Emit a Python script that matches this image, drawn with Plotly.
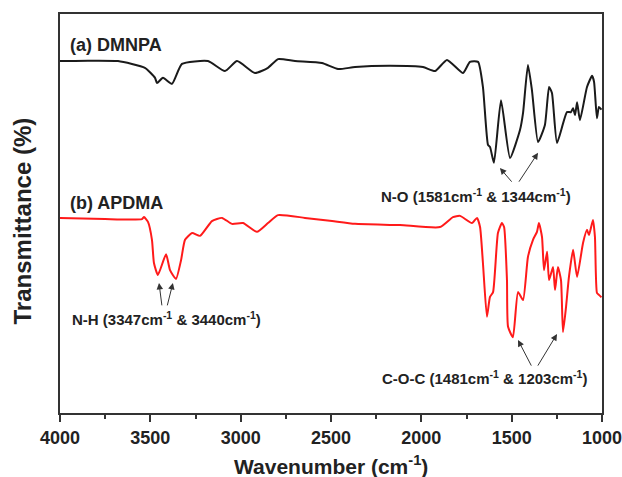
import plotly.graph_objects as go

# (a) DMNPA spectrum - wavenumber (cm-1) and transmittance (arb. %)
wn_a = [4000, 3845, 3679, 3530, 3474, 3463, 3430, 3380, 3325, 3181, 3087, 3020, 2921, 2849,
        2793, 2699, 2550, 2461, 2367, 2173, 1991, 1924, 1858, 1769, 1731, 1686, 1659, 1631,
        1620, 1598, 1559, 1509, 1454, 1437, 1410, 1388, 1354, 1316, 1293, 1277, 1249, 1194,
        1172, 1160, 1149, 1138, 1122, 1083, 1055, 1044, 1028, 1017, 1003]
t_a = [88.2, 88.3, 88.2, 86.5, 84.0, 82.7, 84.0, 82.5, 87.5, 88.2, 85.7, 88.2, 85.2, 86.5,
       88.7, 88.2, 87.7, 86.2, 86.7, 87.0, 86.7, 85.7, 88.5, 85.2, 88.0, 88.0, 81.7, 67.2,
       66.7, 62.7, 78.4, 63.9, 70.9, 75.2, 87.2, 81.0, 67.9, 72.2, 81.7, 80.2, 67.7, 75.4,
       75.4, 76.4, 74.7, 77.9, 73.4, 81.7, 84.5, 83.0, 73.9, 76.7, 76.0]

# (b) APDMA spectrum
wn_b = [4000, 3751, 3546, 3535, 3513, 3491, 3480, 3458, 3413, 3391, 3358, 3330, 3308, 3269,
        3225, 3159, 3103, 3048, 2987, 2910, 2849, 2793, 2644, 2494, 2367, 2118, 1897, 1825,
        1786, 1720, 1692, 1675, 1659, 1637, 1620, 1603, 1576, 1554, 1542, 1526, 1520, 1493,
        1465, 1437, 1410, 1382, 1360, 1349, 1332, 1321, 1304, 1293, 1271, 1260, 1244, 1227,
        1216, 1199, 1183, 1160, 1138, 1105, 1083, 1072, 1050, 1039, 1028, 1017, 1003]
t_b = [48.9, 48.6, 48.6, 49.1, 47.9, 43.4, 37.6, 34.6, 39.8, 35.8, 33.6, 38.3, 43.4, 45.1,
       44.4, 48.1, 48.9, 47.4, 47.6, 45.4, 47.6, 49.6, 48.9, 48.1, 47.4, 47.1, 46.6, 49.1,
       49.4, 47.6, 48.9, 46.6, 37.6, 24.1, 29.1, 30.3, 45.1, 47.6, 46.6, 33.3, 21.6, 19.0,
       30.3, 28.3, 39.1, 43.4, 45.4, 47.6, 44.1, 35.8, 40.4, 33.3, 36.6, 30.8, 36.6, 33.3,
       20.3, 26.6, 34.1, 40.9, 34.1, 42.6, 45.9, 44.6, 48.4, 44.1, 30.1, 29.6, 29.0]

x_ticks = [4000, 3500, 3000, 2500, 2000, 1500, 1000]

FONT = "Arial, Liberation Sans, sans-serif"
TXT = "#222222"

fig = go.Figure()
fig.add_trace(go.Scatter(x=wn_a, y=t_a, mode="lines",
                         line=dict(color="#1a1a1a", width=2, shape="spline", smoothing=0.5),
                         showlegend=False))
fig.add_trace(go.Scatter(x=wn_b, y=t_b, mode="lines",
                         line=dict(color="#ff1a1a", width=2, shape="spline", smoothing=0.5),
                         showlegend=False))

ann = []
def label(x, y, text, size, xanchor="left"):
    ann.append(dict(x=x, y=y, xref="x", yref="y", text=f"<b>{text}</b>", showarrow=False,
                    xanchor=xanchor, yanchor="middle",
                    font=dict(family=FONT, size=size, color=TXT)))

def arrow(x0, y0, x1, y1):
    ann.append(dict(x=x1, y=y1, ax=x0, ay=y0, xref="x", yref="y", axref="x", ayref="y",
                    text="", showarrow=True, arrowhead=2, arrowsize=1.3, arrowwidth=1,
                    arrowcolor="#333333", standoff=0, startstandoff=0))

label(3956, 92.2, "(a) DMNPA", 18)
label(3956, 52.6, "(b) APDMA", 18)
label(1700, 54.6, "N-O (1581cm<sup>-1</sup> &amp; 1344cm<sup>-1</sup>)", 15, "center")
label(3408, 23.8, "N-H (3347cm<sup>-1</sup> &amp; 3440cm<sup>-1</sup>)", 15, "center")
label(1653, 9.0, "C-O-C (1481cm<sup>-1</sup> &amp; 1203cm<sup>-1</sup>)", 15, "center")

arrow(1493, 57.6, 1565, 61.4)
arrow(1465, 57.6, 1354, 65.2)
arrow(3435, 26.6, 3452, 32.6)
arrow(3408, 26.6, 3375, 32.6)
arrow(1387, 11.5, 1465, 18.3)
arrow(1360, 11.5, 1249, 19.8)

# axis titles
ann.append(dict(x=0.5, y=0, xref="paper", yref="paper", yshift=-52, yanchor="middle",
                text="<b>Wavenumber (cm<sup>-1</sup>)</b>", showarrow=False,
                font=dict(family=FONT, size=21, color=TXT)))
ann.append(dict(x=0, y=0.48, xref="paper", yref="paper", xshift=-38, xanchor="center",
                text="<b>Transmittance (%)</b>", showarrow=False, textangle=-90,
                font=dict(family=FONT, size=24, color=TXT)))

fig.update_layout(
    width=622, height=477,
    margin=dict(l=60, r=20, t=14, b=64),
    plot_bgcolor="white", paper_bgcolor="white",
    annotations=ann,
    xaxis=dict(range=[4000, 1000], tickvals=x_ticks, ticks="outside", ticklen=7,
               tickwidth=2, tickcolor="#333333", automargin=False,
               ticklabeloverflow="allow",
               minor=dict(dtick=250, tick0=1000, ticks="outside", ticklen=4, tickwidth=2,
                          tickcolor="#333333"),
               showline=True, linecolor="#333333", linewidth=2, mirror=True,
               showgrid=False, zeroline=False,
               tickfont=dict(family=FONT, size=18, color=TXT, weight="bold")),
    yaxis=dict(range=[0, 100], showticklabels=False, ticks="", automargin=False,
               showline=True, linecolor="#333333", linewidth=2, mirror=True,
               showgrid=False, zeroline=False),
)

fig.write_html("out.html")
